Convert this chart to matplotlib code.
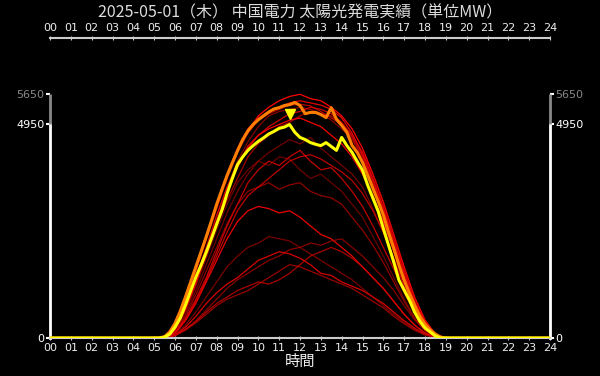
import numpy as np
import matplotlib
matplotlib.use("Agg")
import matplotlib.pyplot as plt
import matplotlib.transforms as mtransforms

plt.rcParams['font.family'] = ['DejaVu Sans', 'Noto Sans CJK JP']

TITLE = "2025-05-01（木） 中国電力 太陽光発電実績（単位MW）"
XLABEL = "時間"
HOUR_LABELS = ["%02d" % h for h in range(25)]
YTICKS = [0, 4950, 5650]

# today (15 min steps from 05:00 to 19:00), with 0 at 00:00 and 24:00
q_hours = [0] + [5 + 0.25 * i for i in range(57)] + [24]
today = [0,
         0, 0, 20, 90, 250, 460, 760, 1090, 1410, 1690, 1990, 2310,
         2640, 2960, 3350, 3700, 4020, 4200, 4350, 4460, 4560, 4640, 4730, 4790,
         4860, 4890, 4950, 4770, 4650, 4600, 4530, 4490, 4460, 4530, 4440, 4350,
         4650, 4460, 4300, 4090, 3890, 3540, 3240, 2940, 2540, 2150, 1760, 1340,
         1110, 880, 600, 390, 230, 140, 45, 0, 0,
         0]
month_max = [0,
             0, 5, 30, 140, 340, 620, 950, 1300, 1650, 2000, 2350, 2720,
             3100, 3440, 3770, 4060, 4340, 4600, 4800, 4950, 5060, 5150, 5240, 5310,
             5340, 5390, 5410, 5460, 5390, 5200, 5230, 5230, 5180, 5110, 5340, 5070,
             4930, 4770, 4460, 4300, 4070, 3770, 3470, 3170, 2850, 2450, 2080, 1690,
             1340, 1040, 760, 510, 320, 185, 90, 20, 0,
             0]

# past days (30 min steps from 05:00 to 19:00)
h_hours = [0] + [5 + 0.5 * i for i in range(29)] + [24]
day01 = [0, 20, 330, 950, 1650, 2350, 3100, 3800, 4400, 4850, 5100, 5250, 5350, 5450, 5500,
         5450, 5400, 5300, 5100, 4750, 4250, 3650, 3000, 2250, 1500, 850, 380, 80, 0]
day02 = [0, 10, 250, 850, 1550, 2300, 3050, 3750, 4350, 4800, 5150, 5350, 5500, 5600, 5650,
         5550, 5500, 5350, 5150, 4850, 4400, 3800, 3150, 2400, 1650, 950, 420, 90, 0]
day03 = [0, 15, 280, 880, 1580, 2280, 3000, 3700, 4300, 4750, 5050, 5200, 5300, 5400, 5420,
         5380, 5250, 5100, 4950, 4650, 4200, 3600, 2950, 2200, 1450, 800, 340, 70, 0]
day04 = [0, 10, 200, 700, 1350, 2050, 2800, 3500, 4100, 4550, 4900, 5150, 5250, 5300, 5350,
         5300, 5200, 5050, 4850, 4600, 4150, 3550, 2900, 2150, 1400, 780, 320, 60, 0]
day05 = [0, 10, 220, 760, 1400, 2100, 2850, 3500, 4000, 4450, 4700, 4900, 5050, 5200, 5250,
         5350, 5300, 5200, 5000, 4700, 4300, 3700, 3050, 2300, 1550, 850, 360, 70, 0]
day06 = [0, 10, 200, 720, 1300, 1900, 2600, 3200, 3700, 4200, 4500, 4700, 4900, 5000, 5150,
         5250, 5200, 5150, 4950, 4700, 4300, 3800, 3150, 2400, 1600, 880, 370, 70, 0]
day07 = [0, 10, 180, 650, 1250, 1950, 2700, 3400, 3950, 4400, 4700, 4850, 4950, 5050, 5100,
         5000, 4900, 4700, 4500, 4200, 3800, 3300, 2700, 2000, 1300, 700, 280, 50, 0]
day08 = [0, 5, 150, 550, 1100, 1700, 2300, 2900, 3400, 3800, 4100, 4300, 4450, 4600, 4500,
         4650, 4400, 4200, 4000, 3800, 3500, 3000, 2450, 1800, 1200, 650, 250, 50, 0]
day09 = [0, 5, 120, 450, 900, 1400, 2000, 2600, 3100, 3600, 3900, 4100, 4000, 4200, 4350,
         4100, 3900, 3950, 3700, 3400, 3050, 2600, 2100, 1600, 1050, 600, 250, 50, 0]
day10 = [0, 5, 130, 500, 1000, 1550, 2100, 2650, 3100, 3400, 3500, 3600, 3450, 3550, 3600,
         3400, 3300, 3250, 3100, 2800, 2500, 2150, 1750, 1300, 850, 450, 180, 30, 0]
day11 = [0, 5, 100, 400, 800, 1300, 1800, 2300, 2700, 2950, 3050, 3000, 2900, 2950, 2800,
         2600, 2400, 2300, 2100, 1900, 1650, 1400, 1150, 850, 550, 300, 120, 20, 0]
day12 = [0, 5, 150, 600, 1200, 1850, 2500, 3100, 3600, 3900, 4100, 4000, 4200, 4150, 3900,
         3700, 3800, 3600, 3400, 3100, 2800, 2350, 1900, 1400, 900, 480, 190, 35, 0]
day13 = [0, 5, 110, 420, 850, 1350, 1900, 2450, 2950, 3300, 3500, 3700, 3900, 4100, 4200,
         4250, 4150, 4000, 3850, 3650, 3350, 2950, 2450, 1850, 1200, 650, 260, 50, 0]
day14 = [0, 5, 60, 200, 400, 650, 900, 1150, 1350, 1500, 1650, 1800, 1900, 2050, 2100,
         2200, 2150, 2250, 2300, 2100, 1900, 1650, 1400, 1100, 750, 420, 170, 30, 0]
day15 = [0, 5, 70, 250, 500, 800, 1050, 1250, 1400, 1600, 1800, 1900, 2000, 1950, 1850,
         1700, 1500, 1450, 1300, 1200, 1100, 950, 800, 600, 400, 230, 90, 15, 0]
day16 = [0, 5, 50, 180, 350, 550, 750, 900, 1000, 1100, 1250, 1400, 1550, 1700, 1650,
         1550, 1450, 1350, 1250, 1150, 1000, 850, 700, 500, 330, 180, 70, 10, 0]
day17 = [0, 5, 60, 200, 380, 600, 800, 950, 1100, 1200, 1300, 1250, 1350, 1500, 1700,
         1900, 2000, 2100, 2000, 1850, 1650, 1400, 1150, 850, 550, 300, 110, 20, 0]
day18 = [0, 5, 80, 300, 600, 950, 1300, 1650, 1900, 2100, 2200, 2350, 2300, 2250, 2100,
         1950, 1800, 1650, 1500, 1350, 1150, 950, 750, 550, 360, 200, 80, 15, 0]

past_days = [day01, day02, day03, day04, day05, day06, day07, day08, day09,
             day10, day11, day12, day13, day14, day15, day16, day17, day18]
# order in which they fade (newest first)
fade_order = [3, 0, 8, 14, 5, 10, 1, 16, 6, 12, 2, 17, 7, 13, 4, 11, 9, 15]

fig = plt.figure(figsize=(6, 3.76), dpi=100, facecolor='black')
ax = fig.add_axes([50 / 600, 38 / 376, 500 / 600, 300 / 376], facecolor='black')

n = len(past_days)
for i, vals in enumerate(past_days):
    k = fade_order[i] / (n - 1)
    col = (1.0 - 0.3 * k, 0.0, 0.0)
    ax.plot(h_hours, [0] + vals + [0], color=col, lw=0.9, alpha=1.0 - 0.4 * k, zorder=2)

ax.plot(q_hours, month_max, color='#ff8000', lw=2.2, zorder=3)
ax.plot(q_hours, today, color='#ffff00', lw=2.2, zorder=4)

i_max = int(np.argmax(today))
tri = mtransforms.offset_copy(ax.transData, fig=fig, y=10, units='dots')
ax.plot(q_hours[i_max], today[i_max], marker='v', color='#ffff00', ms=7, transform=tri,
        zorder=5, clip_on=False)

ax.set_xlim(0, 24)
ax.set_ylim(0, 6955)

# axes and ticks
for side in ['top', 'bottom']:
    ax.spines[side].set_color('#cccccc')
    ax.spines[side].set_linewidth(1.5)
for side in ['left', 'right']:
    ax.spines[side].set_color('white')
    ax.spines[side].set_linewidth(2)
    ax.spines[side].set_bounds(0, YTICKS[1])
ax.vlines([0, 24], YTICKS[1], YTICKS[2], color='#888888', lw=2, clip_on=False, zorder=6)

ax.set_xticks(range(25))
ax.set_xticklabels(HOUR_LABELS)
ax.tick_params(axis='x', which='both', top=True, labeltop=True, bottom=True, labelbottom=True,
               colors='#cccccc', labelcolor='#eeeeee', labelsize=8, length=3, direction='inout',
               pad=2)

ax.set_yticks(YTICKS)
ax.set_yticklabels([str(v) for v in YTICKS])
ax.tick_params(axis='y', left=True, right=True, labelleft=True, labelright=True,
               labelsize=8, length=3, width=1.5, pad=1, colors='white')
for t in ax.yaxis.get_major_ticks():
    v = t.get_loc()
    c = '#888888' if v == YTICKS[2] else 'white'
    t.label1.set_color(c)
    t.label2.set_color(c)
    t.tick1line.set_color(c)
    t.tick2line.set_color(c)

ax.set_xlabel(XLABEL, family=['Noto Sans CJK JP'], fontsize=11, color='#eeeeee', labelpad=0)
fig.text(0.5, 1 - 13 / 376, TITLE, family=['Noto Sans CJK JP', 'DejaVu Sans'], fontsize=11.5,
         color='#dddddd', ha='center', va='center')

fig.savefig('out.png', dpi=100, facecolor='black')
